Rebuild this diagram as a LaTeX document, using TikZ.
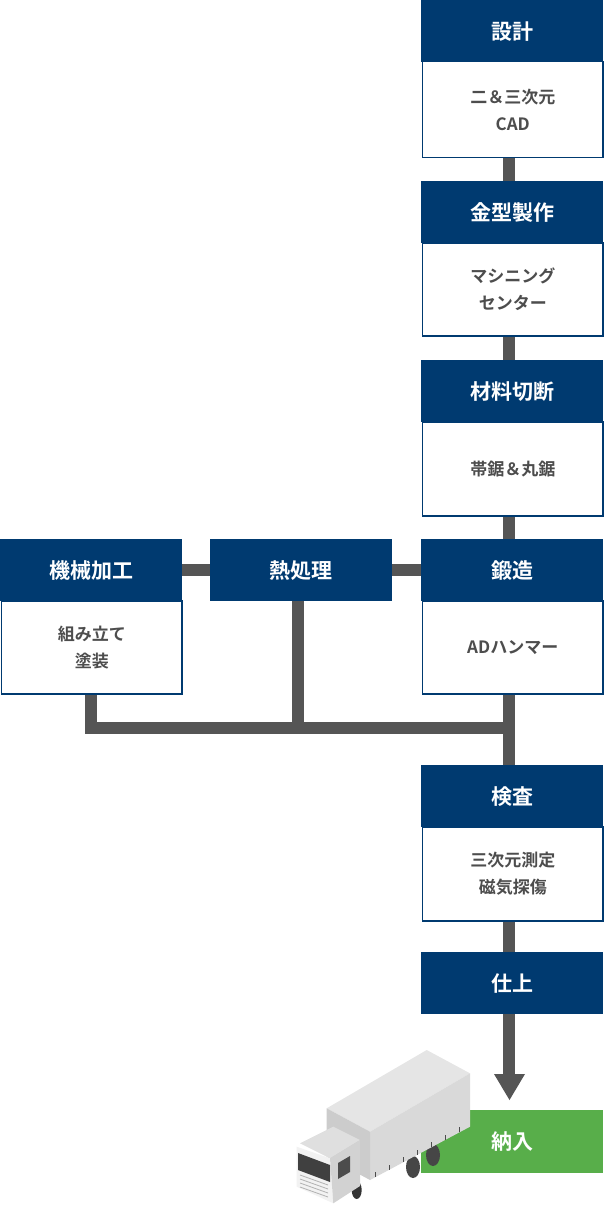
\documentclass[tikz,border=0pt]{standalone}
\usepackage{fontspec}
\newfontfamily\jpb{Noto Sans CJK JP}[BoldFont={* Bold}]
\definecolor{navy}{HTML}{003A70}
\definecolor{conn}{HTML}{555555}
\definecolor{txt}{HTML}{4D4D4D}
\definecolor{grn}{HTML}{58AE4A}
\begin{document}
\begin{tikzpicture}[x=1pt,y=-1pt,
 hd/.style={fill=navy,minimum width=182pt,minimum height=62pt,inner sep=0,anchor=north west,text=white,font=\jpb\bfseries\fontsize{21}{24}\selectfont},
 bd/.style={draw=navy,line width=1.5pt,fill=white,minimum width=180.5pt,inner sep=0,anchor=north west,text=txt,align=center,font=\jpb\bfseries\fontsize{17}{27}\selectfont},
 cn/.style={conn,line width=12pt}]
\useasboundingbox (0,0) rectangle (603,1209);
% connectors
\coordinate (c1) at (509,157); \coordinate (c2) at (509,181);
\draw[cn] (509,150) -- (509,190);
\draw[cn] (509,330) -- (509,365);
\draw[cn] (509,510) -- (509,545);
\draw[cn] (175,570) -- (215,570);
\draw[cn] (385,570) -- (425,570);
\coordinate (jl) at (91,728); \coordinate (jh) at (298,728); \coordinate (jr) at (509,728);
\draw[cn,line join=miter] (91,690) -- (91,728) -- (515,728);
\draw[cn] (298,600) -- (jh);
\draw[cn] (509,690) -- (509,770);
\draw[cn] (509,915) -- (509,957);
\draw[cn] (509,1010) -- (509,1076);
\fill[conn] (494,1074) -- (525,1074) -- (509.5,1100) -- cycle;
% boxes
\node[bd,minimum height=96pt] (b1) at (421.75,61) {二＆三次元\\CAD};
\node[hd] (h1) at (421,0) {設計};
\node[bd,minimum height=93pt] (b2) at (421.75,242) {マシニング\\センター};
\node[hd] (h2) at (421,181) {金型製作};
\node[bd,minimum height=94pt] (b3) at (421.75,421) {帯鋸＆丸鋸};
\node[hd] (h3) at (421,360) {材料切断};
\node[bd,minimum height=93pt] (b4) at (421.75,600) {ADハンマー};
\node[hd] (h4) at (421,539) {鍛造};
\node[bd,minimum height=93pt] (b5) at (0.75,600) {組み立て\\塗装};
\node[hd] (h5) at (0,539) {機械加工};
\node[hd] (h6) at (210,539) {熱処理};
\node[bd,minimum height=94pt] (b7) at (421.75,826) {三次元測定\\磁気探傷};
\node[hd] (h7) at (421,765) {検査};
\node[hd] (h8) at (421,952) {仕上};
\node[hd,fill=grn,minimum height=63pt] (h9) at (421,1110) {納入};
% truck
\begin{scope}[line join=round]
\fill[gray!55!black] (413,1167) ellipse (7 and 11);
\fill[gray!55!black] (433,1155) ellipse (7 and 11);
\fill[gray!20] (326.7,1108.3) -- (426.7,1050) -- (470,1073.3) -- (370,1131.7) -- cycle;
\fill[gray!30] (370,1131.7) -- (470,1073.3) -- (470,1126.7) -- (370,1180) -- cycle;
\fill[gray!40] (326.7,1108.3) -- (370,1131.7) -- (370,1180) -- (326.7,1156.7) -- cycle;
\foreach \i in {0,...,6} \draw[gray!60!black,line width=0.6pt] ({375+\i*14},{1177-\i*7.5}) -- ++(0,-5);
\fill[black!80] (356.7,1190) ellipse (5 and 9);
\fill[gray!25] (300,1143.3) -- (333.3,1126.7) -- (360,1140) -- (330,1158.3) -- cycle;
\fill[gray!10] (296.7,1146.7) -- (330,1158.3) -- (333.3,1203.3) -- (296.7,1186.7) -- cycle;
\fill[gray!35] (330,1158.3) -- (360,1140) -- (360,1186) -- (333.3,1203.3) -- cycle;
\fill[black!75] (298,1153) -- (330,1165) -- (330,1182) -- (298,1170) -- cycle;
\fill[black!70] (338,1163) -- (350,1156) -- (350,1172) -- (338,1179) -- cycle;
\foreach \i in {0,...,3} \draw[gray!60,line width=0.8pt] ({300},{1175+\i*4}) -- ++(28,{10});
\end{scope}
\end{tikzpicture}
\end{document}
